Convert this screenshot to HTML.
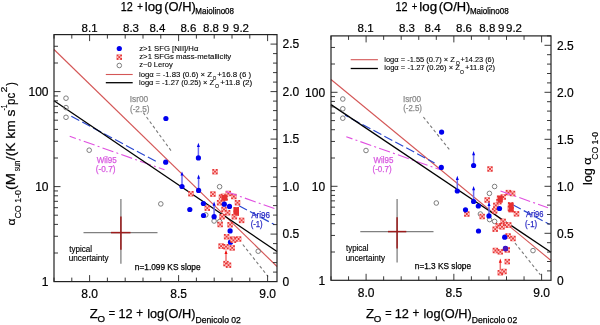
<!DOCTYPE html><html><head><meta charset="utf-8"><style>html,body{margin:0;padding:0;background:#fff;width:600px;height:325px;overflow:hidden}svg{display:block;will-change:transform}</style></head><body>
<svg width="600" height="325" viewBox="0 0 600 325" font-family='"Liberation Sans", sans-serif'>
<defs><g id="sq"><rect x="-2.7" y="-2.7" width="5.4" height="5.4" fill="#e63636"/><path d="M-0.9 -2.7h1.8v1.8h-1.8zM-2.7 -0.9h1.8v1.8h-1.8zM0.9 -0.9h1.8v1.8h-1.8zM-0.9 0.9h1.8v1.8h-1.8z" fill="#ffc4c4"/></g></defs>
<rect width="600" height="325" fill="#fff"/>
<line x1="54" y1="49.5" x2="277" y2="266.5" stroke="#d45656" stroke-width="1.1"/>
<line x1="143.3" y1="112.6" x2="172" y2="152" stroke="#7a7a7a" stroke-width="1.1" stroke-dasharray="3 2.5"/>
<line x1="242.8" y1="244.5" x2="268" y2="276.5" stroke="#7a7a7a" stroke-width="1.1" stroke-dasharray="3 2.5"/>
<line x1="71.3" y1="116.2" x2="158.9" y2="163.0" stroke="#2846d0" stroke-width="1.15" stroke-dasharray="9 3.4"/>
<line x1="239.0" y1="205.7" x2="274.4" y2="224.6" stroke="#2846d0" stroke-width="1.15" stroke-dasharray="9 3.4"/>
<line x1="69.7" y1="136.3" x2="164.5" y2="169.8" stroke="#e050e0" stroke-width="1.1" stroke-dasharray="11.5 3.2 2 3.2" stroke-dashoffset="5"/>
<line x1="54" y1="100.7" x2="277" y2="251.5" stroke="#000" stroke-width="1.3"/>
<circle cx="66" cy="98.2" r="2.3" fill="none" stroke="#707070" stroke-width="0.9"/>
<circle cx="66" cy="107.6" r="2.3" fill="none" stroke="#707070" stroke-width="0.9"/>
<circle cx="66" cy="117.3" r="2.3" fill="none" stroke="#707070" stroke-width="0.9"/>
<circle cx="89.2" cy="150.2" r="2.3" fill="none" stroke="#707070" stroke-width="0.9"/>
<circle cx="160.8" cy="203.9" r="2.3" fill="none" stroke="#707070" stroke-width="0.9"/>
<circle cx="219.6" cy="186.7" r="2.3" fill="none" stroke="#707070" stroke-width="0.9"/>
<circle cx="205.8" cy="214.9" r="2.3" fill="none" stroke="#707070" stroke-width="0.9"/>
<circle cx="214.1" cy="221" r="2.3" fill="none" stroke="#707070" stroke-width="0.9"/>
<circle cx="219.6" cy="221.6" r="2.3" fill="none" stroke="#707070" stroke-width="0.9"/>
<circle cx="258.2" cy="251.2" r="2.3" fill="none" stroke="#707070" stroke-width="0.9"/>
<line x1="226" y1="263" x2="226" y2="253.3" stroke="#f07070" stroke-width="1.5"/>
<path d="M224.5 254.0L226 249.8L227.5 254.0Z" fill="#ee1010"/>
<use href="#sq" x="215" y="171.7"/>
<use href="#sq" x="190.9" y="193.7"/>
<use href="#sq" x="212.9" y="194.1"/>
<use href="#sq" x="221.5" y="197.2"/>
<use href="#sq" x="225.2" y="197.8"/>
<use href="#sq" x="223.4" y="196.4"/>
<use href="#sq" x="222.5" y="199"/>
<use href="#sq" x="228.3" y="193.5"/>
<use href="#sq" x="233.8" y="196.5"/>
<use href="#sq" x="219.6" y="202.7"/>
<use href="#sq" x="237.5" y="202.7"/>
<use href="#sq" x="207.3" y="208.2"/>
<use href="#sq" x="224" y="209.4"/>
<use href="#sq" x="227.6" y="212.7"/>
<use href="#sq" x="236.3" y="209.7"/>
<use href="#sq" x="236.3" y="213.2"/>
<use href="#sq" x="222.1" y="216.7"/>
<use href="#sq" x="234.4" y="216.7"/>
<use href="#sq" x="241.6" y="220.4"/>
<use href="#sq" x="220.2" y="224.5"/>
<use href="#sq" x="230.1" y="224.7"/>
<use href="#sq" x="226.6" y="236.7"/>
<use href="#sq" x="232.6" y="239.4"/>
<use href="#sq" x="233.4" y="240.3"/>
<use href="#sq" x="238.6" y="239"/>
<use href="#sq" x="221.1" y="246.1"/>
<use href="#sq" x="226" y="246.7"/>
<use href="#sq" x="232.2" y="247.9"/>
<use href="#sq" x="226" y="263.6"/>
<use href="#sq" x="228.5" y="265.2"/>
<circle cx="165.9" cy="118.5" r="2.6" fill="#0000ee"/>
<circle cx="165.7" cy="162.2" r="2.6" fill="#0000ee"/>
<line x1="198.4" y1="157.9" x2="198.4" y2="146.3" stroke="#6a6af2" stroke-width="1.5"/>
<path d="M196.9 147.0L198.4 142.8L199.9 147.0Z" fill="#0000ee"/>
<circle cx="198.4" cy="157.9" r="2.6" fill="#0000ee"/>
<line x1="182" y1="186.5" x2="182" y2="174.9" stroke="#6a6af2" stroke-width="1.5"/>
<path d="M180.5 175.6L182 171.4L183.5 175.6Z" fill="#0000ee"/>
<circle cx="182" cy="186.5" r="2.6" fill="#0000ee"/>
<line x1="198.6" y1="190.4" x2="198.6" y2="178.0" stroke="#6a6af2" stroke-width="1.5"/>
<path d="M197.1 178.7L198.6 174.5L200.1 178.7Z" fill="#0000ee"/>
<circle cx="198.6" cy="190.4" r="2.6" fill="#0000ee"/>
<circle cx="203.4" cy="203.5" r="2.6" fill="#0000ee"/>
<circle cx="189.8" cy="209.5" r="2.6" fill="#0000ee"/>
<circle cx="224.3" cy="204.2" r="2.6" fill="#0000ee"/>
<circle cx="229.5" cy="206.4" r="2.6" fill="#0000ee"/>
<circle cx="203.5" cy="215.5" r="2.6" fill="#0000ee"/>
<line x1="214.1" y1="216.7" x2="214.1" y2="205.0" stroke="#6a6af2" stroke-width="1.5"/>
<path d="M212.6 205.7L214.1 201.5L215.6 205.7Z" fill="#0000ee"/>
<circle cx="214.1" cy="216.7" r="2.6" fill="#0000ee"/>
<circle cx="230.1" cy="230.9" r="2.6" fill="#0000ee"/>
<circle cx="230.5" cy="242.2" r="2.6" fill="#0000ee"/>
<use href="#sq" x="232.6" y="239.4"/>
<use href="#sq" x="233.4" y="240.3"/>
<rect x="221.6" y="195" width="5.6" height="5.6" fill="#e63030"/>
<rect x="233.6" y="207.2" width="5.4" height="7.5" fill="#e63030"/>
<line x1="226.1" y1="191.5" x2="274.4" y2="208.6" stroke="#e050e0" stroke-width="1.1" stroke-dasharray="11.5 3.2 2 3.2"/>
<line x1="83.5" y1="232.6" x2="157.5" y2="232.6" stroke="#808080" stroke-width="1.3"/>
<line x1="120.9" y1="198.9" x2="120.9" y2="263.8" stroke="#808080" stroke-width="1.3"/>
<line x1="111" y1="232.6" x2="130.5" y2="232.6" stroke="#9c1c1c" stroke-width="1.5"/>
<line x1="120.9" y1="216.5" x2="120.9" y2="249.8" stroke="#9c1c1c" stroke-width="1.5"/>
<text x="69.23" y="251.9" font-size="8.7" fill="#000" stroke="#000" stroke-width="0.15" textLength="22.86" lengthAdjust="spacingAndGlyphs">typical</text>
<text x="68.82" y="261" font-size="8.7" fill="#000" stroke="#000" stroke-width="0.15" textLength="39.84" lengthAdjust="spacingAndGlyphs">uncertainty</text>
<text x="134.81" y="270.1" font-size="8.6" fill="#000" stroke="#000" stroke-width="0.25" textLength="65.80" lengthAdjust="spacingAndGlyphs">n=1.099 KS slope</text>
<text x="129.68" y="102.3" font-size="8.7" fill="#8a8a8a" stroke="#8a8a8a" stroke-width="0.25" textLength="18.49" lengthAdjust="spacingAndGlyphs">Isr00</text>
<text x="129.94" y="111.6" font-size="8.7" fill="#8a8a8a" stroke="#8a8a8a" stroke-width="0.25" textLength="19.51" lengthAdjust="spacingAndGlyphs">(-2.5)</text>
<text x="96.71" y="162.6" font-size="8.7" fill="#d858e0" stroke="#d858e0" stroke-width="0.25" textLength="20.07" lengthAdjust="spacingAndGlyphs">Wil95</text>
<text x="95.84" y="172.2" font-size="8.7" fill="#d858e0" stroke="#d858e0" stroke-width="0.25" textLength="19.62" lengthAdjust="spacingAndGlyphs">(-0.7)</text>
<text x="251.13" y="217.9" font-size="8.7" fill="#2828c4" stroke="#2828c4" stroke-width="0.25" textLength="18.88" lengthAdjust="spacingAndGlyphs">Ari96</text>
<text x="250.67" y="227" font-size="8.7" fill="#2828c4" stroke="#2828c4" stroke-width="0.25" textLength="12.05" lengthAdjust="spacingAndGlyphs">(-1)</text>
<circle cx="119.3" cy="48.5" r="2.6" fill="#0000ee"/>
<use href="#sq" x="119.3" y="57.2"/>
<circle cx="119.3" cy="65.5" r="2.3" fill="none" stroke="#707070" stroke-width="0.9"/>
<line x1="105.8" y1="74.5" x2="132.7" y2="74.5" stroke="#d45656" stroke-width="1.1"/>
<line x1="105.8" y1="82.7" x2="132.7" y2="82.7" stroke="#000" stroke-width="1.3"/>
<text x="139.24" y="51.1" font-size="8" fill="#000" stroke="#000" stroke-width="0.1" textLength="59.13" lengthAdjust="spacingAndGlyphs">z&gt;1 SFG [NII]/Hα</text>
<text x="139.24" y="59.3" font-size="8" fill="#000" stroke="#000" stroke-width="0.1" textLength="91.94" lengthAdjust="spacingAndGlyphs">z&gt;1 SFGs mass-metallicity</text>
<text x="139.25" y="67.3" font-size="8" fill="#000" stroke="#000" stroke-width="0.1" textLength="33.42" lengthAdjust="spacingAndGlyphs">z~0 Leroy</text>
<text x="139.03" y="76.6" font-size="8" fill="#000" stroke="#000" stroke-width="0.1" textLength="72.86" lengthAdjust="spacingAndGlyphs">logα = -1.83 (0.6) × Z</text>
<text x="212.83" y="79.9" font-size="6.2" fill="#000" stroke="#000" stroke-width="0.1" textLength="3.53" lengthAdjust="spacingAndGlyphs">O</text>
<text x="217.18" y="76.6" font-size="8" fill="#000" stroke="#000" stroke-width="0.1" textLength="33.95" lengthAdjust="spacingAndGlyphs">+16.8 (6 )</text>
<text x="139.04" y="85" font-size="8" fill="#000" stroke="#000" stroke-width="0.1" textLength="75.03" lengthAdjust="spacingAndGlyphs">logα = -1.27 (0.25) × Z</text>
<text x="215.10" y="88.3" font-size="6.2" fill="#000" stroke="#000" stroke-width="0.1" textLength="4.10" lengthAdjust="spacingAndGlyphs">O</text>
<text x="220.16" y="85" font-size="8" fill="#000" stroke="#000" stroke-width="0.1" textLength="32.18" lengthAdjust="spacingAndGlyphs">+11.8 (2)</text>
<path d="M54.00 281.60V277.60M54.00 34.60V38.60M71.80 281.60V277.60M71.80 34.60V38.60M89.60 281.60V275.10M89.60 34.60V41.10M107.40 281.60V277.60M107.40 34.60V38.60M125.20 281.60V277.60M125.20 34.60V38.60M143.00 281.60V277.60M143.00 34.60V38.60M160.80 281.60V277.60M160.80 34.60V38.60M178.60 281.60V275.10M178.60 34.60V41.10M196.40 281.60V277.60M196.40 34.60V38.60M214.20 281.60V277.60M214.20 34.60V38.60M232.00 281.60V277.60M232.00 34.60V38.60M249.80 281.60V277.60M249.80 34.60V38.60M267.60 281.60V275.10M267.60 34.60V41.10M54.00 253.00H58.00M54.00 236.27H58.00M54.00 224.40H58.00M54.00 215.20H58.00M54.00 207.68H58.00M54.00 201.32H58.00M54.00 195.81H58.00M54.00 190.95H58.00M54.00 186.60H60.50M54.00 158.00H58.00M54.00 141.27H58.00M54.00 129.40H58.00M54.00 120.20H58.00M54.00 112.68H58.00M54.00 106.32H58.00M54.00 100.81H58.00M54.00 95.95H58.00M54.00 91.60H60.50M54.00 63.00H58.00M54.00 46.27H58.00M277.00 272.10H273.00M277.00 262.60H273.00M277.00 253.10H273.00M277.00 243.60H273.00M277.00 234.10H270.50M277.00 224.60H273.00M277.00 215.10H273.00M277.00 205.60H273.00M277.00 196.10H273.00M277.00 186.60H270.50M277.00 177.10H273.00M277.00 167.60H273.00M277.00 158.10H273.00M277.00 148.60H273.00M277.00 139.10H270.50M277.00 129.60H273.00M277.00 120.10H273.00M277.00 110.60H273.00M277.00 101.10H273.00M277.00 91.60H270.50M277.00 82.10H273.00M277.00 72.60H273.00M277.00 63.10H273.00M277.00 53.60H273.00M277.00 44.10H270.50M277.00 34.60H273.00" stroke="#222" stroke-width="0.9" fill="none"/>
<rect x="54" y="34.60" width="223" height="247.00" fill="none" stroke="#222" stroke-width="1.2"/>
<text x="89.60" y="298.10" text-anchor="middle" font-size="12" stroke="#000" stroke-width="0.2">8.0</text>
<text x="178.60" y="298.10" text-anchor="middle" font-size="12" stroke="#000" stroke-width="0.2">8.5</text>
<text x="267.60" y="298.10" text-anchor="middle" font-size="12" stroke="#000" stroke-width="0.2">9.0</text>
<text x="48.5" y="285.90" text-anchor="end" font-size="12" stroke="#000" stroke-width="0.2">1</text>
<text x="48.5" y="190.90" text-anchor="end" font-size="12" stroke="#000" stroke-width="0.2">10</text>
<text x="48.5" y="95.90" text-anchor="end" font-size="12" stroke="#000" stroke-width="0.2">100</text>
<text x="282.5" y="285.90" font-size="12" stroke="#000" stroke-width="0.2">0</text>
<text x="282.5" y="238.40" font-size="12" stroke="#000" stroke-width="0.2">0.5</text>
<text x="282.5" y="190.90" font-size="12" stroke="#000" stroke-width="0.2">1.0</text>
<text x="282.5" y="143.40" font-size="12" stroke="#000" stroke-width="0.2">1.5</text>
<text x="282.5" y="95.90" font-size="12" stroke="#000" stroke-width="0.2">2.0</text>
<text x="282.5" y="48.40" font-size="12" stroke="#000" stroke-width="0.2">2.5</text>
<text x="89.6" y="32" text-anchor="middle" font-size="11.5" stroke="#000" stroke-width="0.2">8.1</text>
<text x="131" y="32" text-anchor="middle" font-size="11.5" stroke="#000" stroke-width="0.2">8.3</text>
<text x="157.4" y="32" text-anchor="middle" font-size="11.5" stroke="#000" stroke-width="0.2">8.4</text>
<text x="188.4" y="32" text-anchor="middle" font-size="11.5" stroke="#000" stroke-width="0.2">8.6</text>
<text x="211" y="32" text-anchor="middle" font-size="11.5" stroke="#000" stroke-width="0.2">8.8</text>
<text x="225.6" y="32" text-anchor="middle" font-size="11.5" stroke="#000" stroke-width="0.2">9</text>
<text x="241" y="32" text-anchor="middle" font-size="11.5" stroke="#000" stroke-width="0.2">9.2</text>
<line x1="331" y1="79.5" x2="551" y2="260.5" stroke="#d45656" stroke-width="1.1"/>
<line x1="423.4" y1="117" x2="449.5" y2="149.7" stroke="#7a7a7a" stroke-width="1.1" stroke-dasharray="3 2.5"/>
<line x1="515" y1="243" x2="540.5" y2="275" stroke="#7a7a7a" stroke-width="1.1" stroke-dasharray="3 2.5"/>
<line x1="345.0" y1="115.2" x2="434.6" y2="163.0" stroke="#2846d0" stroke-width="1.15" stroke-dasharray="9 3.4" stroke-dashoffset="5"/>
<line x1="512.8" y1="204.8" x2="549.6" y2="224.4" stroke="#2846d0" stroke-width="1.15" stroke-dasharray="9 3.4"/>
<line x1="346.3" y1="136.7" x2="439.0" y2="169.3" stroke="#e050e0" stroke-width="1.1" stroke-dasharray="11.5 3.2 2 3.2" stroke-dashoffset="5"/>
<line x1="331" y1="104.6" x2="551" y2="252.2" stroke="#000" stroke-width="1.3"/>
<circle cx="342.8" cy="99" r="2.3" fill="none" stroke="#707070" stroke-width="0.9"/>
<circle cx="342.8" cy="108.8" r="2.3" fill="none" stroke="#707070" stroke-width="0.9"/>
<circle cx="342.8" cy="118.2" r="2.3" fill="none" stroke="#707070" stroke-width="0.9"/>
<circle cx="366" cy="150.5" r="2.3" fill="none" stroke="#707070" stroke-width="0.9"/>
<circle cx="436.3" cy="203" r="2.3" fill="none" stroke="#707070" stroke-width="0.9"/>
<circle cx="494.6" cy="186.5" r="2.3" fill="none" stroke="#707070" stroke-width="0.9"/>
<circle cx="489.4" cy="193.4" r="2.3" fill="none" stroke="#707070" stroke-width="0.9"/>
<circle cx="480.4" cy="214" r="2.3" fill="none" stroke="#707070" stroke-width="0.9"/>
<circle cx="489.6" cy="219.6" r="2.3" fill="none" stroke="#707070" stroke-width="0.9"/>
<circle cx="494.6" cy="221.4" r="2.3" fill="none" stroke="#707070" stroke-width="0.9"/>
<circle cx="533" cy="250.6" r="2.3" fill="none" stroke="#707070" stroke-width="0.9"/>
<line x1="500.3" y1="271" x2="500.3" y2="262.0" stroke="#f07070" stroke-width="1.5"/>
<path d="M498.8 262.7L500.3 258.5L501.8 262.7Z" fill="#ee1010"/>
<use href="#sq" x="490" y="169"/>
<use href="#sq" x="487.2" y="200"/>
<use href="#sq" x="508.4" y="192.6"/>
<use href="#sq" x="512.5" y="193.5"/>
<use href="#sq" x="499.6" y="198.2"/>
<use href="#sq" x="503.3" y="197"/>
<use href="#sq" x="498.9" y="201.7"/>
<use href="#sq" x="510.6" y="204.8"/>
<use href="#sq" x="511.2" y="209.7"/>
<use href="#sq" x="516.5" y="213.8"/>
<use href="#sq" x="510.4" y="208.5"/>
<use href="#sq" x="466.8" y="214"/>
<use href="#sq" x="482.2" y="216.5"/>
<use href="#sq" x="494.6" y="210.9"/>
<use href="#sq" x="495.8" y="205.4"/>
<use href="#sq" x="503.2" y="221.4"/>
<use href="#sq" x="498.3" y="225.7"/>
<use href="#sq" x="505.6" y="225.1"/>
<use href="#sq" x="495.2" y="229.2"/>
<use href="#sq" x="502" y="226.8"/>
<use href="#sq" x="508.7" y="224.9"/>
<use href="#sq" x="508.1" y="236"/>
<use href="#sq" x="513" y="238.5"/>
<use href="#sq" x="495.4" y="250.5"/>
<use href="#sq" x="500.3" y="251.8"/>
<use href="#sq" x="507.3" y="249.9"/>
<use href="#sq" x="507.3" y="261.6"/>
<use href="#sq" x="500.3" y="272.7"/>
<use href="#sq" x="504" y="271.5"/>
<circle cx="441.6" cy="132.1" r="2.6" fill="#0000ee"/>
<circle cx="441.3" cy="167.4" r="2.6" fill="#0000ee"/>
<line x1="473.6" y1="165.5" x2="473.6" y2="154.5" stroke="#6a6af2" stroke-width="1.5"/>
<path d="M472.1 155.2L473.6 151L475.1 155.2Z" fill="#0000ee"/>
<circle cx="473.6" cy="165.5" r="2.6" fill="#0000ee"/>
<line x1="457.3" y1="191" x2="457.3" y2="179.3" stroke="#6a6af2" stroke-width="1.5"/>
<path d="M455.8 180.0L457.3 175.8L458.8 180.0Z" fill="#0000ee"/>
<circle cx="457.3" cy="191" r="2.6" fill="#0000ee"/>
<line x1="473.6" y1="201.5" x2="473.6" y2="189.5" stroke="#6a6af2" stroke-width="1.5"/>
<path d="M472.1 190.2L473.6 186L475.1 190.2Z" fill="#0000ee"/>
<circle cx="473.6" cy="201.5" r="2.6" fill="#0000ee"/>
<circle cx="478.3" cy="206" r="2.6" fill="#0000ee"/>
<circle cx="465.5" cy="209.8" r="2.6" fill="#0000ee"/>
<line x1="489" y1="215.9" x2="489" y2="205.2" stroke="#6a6af2" stroke-width="1.5"/>
<path d="M487.5 205.89999999999998L489 201.7L490.5 205.89999999999998Z" fill="#0000ee"/>
<circle cx="489" cy="215.9" r="2.6" fill="#0000ee"/>
<circle cx="499.5" cy="208.5" r="2.6" fill="#0000ee"/>
<circle cx="478.5" cy="231" r="2.6" fill="#0000ee"/>
<circle cx="504.7" cy="237.2" r="2.6" fill="#0000ee"/>
<circle cx="505.4" cy="248.4" r="2.6" fill="#0000ee"/>
<circle cx="505.5" cy="248.7" r="2.6" fill="#4a14b8"/>
<rect x="497.6" y="195.8" width="5.2" height="6.8" fill="#e63030"/>
<rect x="508.6" y="202.8" width="5" height="9" fill="#e63030"/>
<line x1="500.5" y1="191.0" x2="548.0" y2="207.7" stroke="#e050e0" stroke-width="1.1" stroke-dasharray="11.5 3.2 2 3.2"/>
<line x1="360.3" y1="231.6" x2="433.5" y2="231.6" stroke="#808080" stroke-width="1.3"/>
<line x1="397.1" y1="198.9" x2="397.1" y2="262.5" stroke="#808080" stroke-width="1.3"/>
<line x1="388" y1="231.6" x2="406.3" y2="231.6" stroke="#9c1c1c" stroke-width="1.5"/>
<line x1="397.1" y1="217.2" x2="397.1" y2="248.6" stroke="#9c1c1c" stroke-width="1.5"/>
<text x="346.03" y="251.4" font-size="8.7" fill="#000" stroke="#000" stroke-width="0.15" textLength="22.45" lengthAdjust="spacingAndGlyphs">typical</text>
<text x="345.63" y="260.6" font-size="8.7" fill="#000" stroke="#000" stroke-width="0.15" textLength="39.44" lengthAdjust="spacingAndGlyphs">uncertainty</text>
<text x="414.81" y="268.6" font-size="8.6" fill="#000" stroke="#000" stroke-width="0.25" textLength="56.19" lengthAdjust="spacingAndGlyphs">n=1.3 KS slope</text>
<text x="402.89" y="101.5" font-size="8.7" fill="#8a8a8a" stroke="#8a8a8a" stroke-width="0.25" textLength="18.17" lengthAdjust="spacingAndGlyphs">Isr00</text>
<text x="403.16" y="111" font-size="8.7" fill="#8a8a8a" stroke="#8a8a8a" stroke-width="0.25" textLength="18.78" lengthAdjust="spacingAndGlyphs">(-2.5)</text>
<text x="373.41" y="162.6" font-size="8.7" fill="#d858e0" stroke="#d858e0" stroke-width="0.25" textLength="19.96" lengthAdjust="spacingAndGlyphs">Wil95</text>
<text x="372.55" y="172.2" font-size="8.7" fill="#d858e0" stroke="#d858e0" stroke-width="0.25" textLength="19.09" lengthAdjust="spacingAndGlyphs">(-0.7)</text>
<text x="525.93" y="217.3" font-size="8.7" fill="#2828c4" stroke="#2828c4" stroke-width="0.25" textLength="17.55" lengthAdjust="spacingAndGlyphs">Ari96</text>
<text x="524.97" y="226.5" font-size="8.7" fill="#2828c4" stroke="#2828c4" stroke-width="0.25" textLength="12.05" lengthAdjust="spacingAndGlyphs">(-1)</text>
<line x1="350.7" y1="59.7" x2="377.9" y2="59.7" stroke="#d45656" stroke-width="1.1"/>
<line x1="350.7" y1="68.5" x2="377.9" y2="68.5" stroke="#000" stroke-width="1.3"/>
<text x="384.24" y="62" font-size="8" fill="#000" stroke="#000" stroke-width="0.1" textLength="70.64" lengthAdjust="spacingAndGlyphs">logα = -1.55 (0.7) × Z</text>
<text x="455.70" y="65.3" font-size="6.2" fill="#000" stroke="#000" stroke-width="0.1" textLength="4.10" lengthAdjust="spacingAndGlyphs">O</text>
<text x="460.50" y="62" font-size="8" fill="#000" stroke="#000" stroke-width="0.1" textLength="33.60" lengthAdjust="spacingAndGlyphs">+14.23 (6)</text>
<text x="384.24" y="70.4" font-size="8" fill="#000" stroke="#000" stroke-width="0.1" textLength="75.64" lengthAdjust="spacingAndGlyphs">logα = -1.27 (0.26) × Z</text>
<text x="460.11" y="73.7" font-size="6.2" fill="#000" stroke="#000" stroke-width="0.1" textLength="3.99" lengthAdjust="spacingAndGlyphs">O</text>
<text x="464.99" y="70.4" font-size="8" fill="#000" stroke="#000" stroke-width="0.1" textLength="30.13" lengthAdjust="spacingAndGlyphs">+11.8 (2)</text>
<path d="M331.00 280.30V276.30M331.00 35.90V39.90M348.55 280.30V276.30M348.55 35.90V39.90M366.10 280.30V273.80M366.10 35.90V42.40M383.65 280.30V276.30M383.65 35.90V39.90M401.20 280.30V276.30M401.20 35.90V39.90M418.75 280.30V276.30M418.75 35.90V39.90M436.30 280.30V276.30M436.30 35.90V39.90M453.85 280.30V273.80M453.85 35.90V42.40M471.40 280.30V276.30M471.40 35.90V39.90M488.95 280.30V276.30M488.95 35.90V39.90M506.50 280.30V276.30M506.50 35.90V39.90M524.05 280.30V276.30M524.05 35.90V39.90M541.60 280.30V273.80M541.60 35.90V42.40M331.00 252.00H335.00M331.00 235.45H335.00M331.00 223.71H335.00M331.00 214.60H335.00M331.00 207.15H335.00M331.00 200.86H335.00M331.00 195.41H335.00M331.00 190.60H335.00M331.00 186.30H337.50M331.00 158.00H335.00M331.00 141.45H335.00M331.00 129.71H335.00M331.00 120.60H335.00M331.00 113.15H335.00M331.00 106.86H335.00M331.00 101.41H335.00M331.00 96.60H335.00M331.00 92.30H337.50M331.00 64.00H335.00M331.00 47.45H335.00M551.00 270.90H547.00M551.00 261.50H547.00M551.00 252.10H547.00M551.00 242.70H547.00M551.00 233.30H544.50M551.00 223.90H547.00M551.00 214.50H547.00M551.00 205.10H547.00M551.00 195.70H547.00M551.00 186.30H544.50M551.00 176.90H547.00M551.00 167.50H547.00M551.00 158.10H547.00M551.00 148.70H547.00M551.00 139.30H544.50M551.00 129.90H547.00M551.00 120.50H547.00M551.00 111.10H547.00M551.00 101.70H547.00M551.00 92.30H544.50M551.00 82.90H547.00M551.00 73.50H547.00M551.00 64.10H547.00M551.00 54.70H547.00M551.00 45.30H544.50M551.00 35.90H547.00" stroke="#222" stroke-width="0.9" fill="none"/>
<rect x="331" y="35.90" width="220" height="244.40" fill="none" stroke="#222" stroke-width="1.2"/>
<text x="366.10" y="296.80" text-anchor="middle" font-size="12" stroke="#000" stroke-width="0.2">8.0</text>
<text x="453.85" y="296.80" text-anchor="middle" font-size="12" stroke="#000" stroke-width="0.2">8.5</text>
<text x="541.60" y="296.80" text-anchor="middle" font-size="12" stroke="#000" stroke-width="0.2">9.0</text>
<text x="325.1" y="284.60" text-anchor="end" font-size="12" stroke="#000" stroke-width="0.2">1</text>
<text x="325.1" y="190.60" text-anchor="end" font-size="12" stroke="#000" stroke-width="0.2">10</text>
<text x="325.1" y="96.60" text-anchor="end" font-size="12" stroke="#000" stroke-width="0.2">100</text>
<text x="557" y="284.60" font-size="12" stroke="#000" stroke-width="0.2">0</text>
<text x="557" y="237.60" font-size="12" stroke="#000" stroke-width="0.2">0.5</text>
<text x="557" y="190.60" font-size="12" stroke="#000" stroke-width="0.2">1.0</text>
<text x="557" y="143.60" font-size="12" stroke="#000" stroke-width="0.2">1.5</text>
<text x="557" y="96.60" font-size="12" stroke="#000" stroke-width="0.2">2.0</text>
<text x="557" y="49.60" font-size="12" stroke="#000" stroke-width="0.2">2.5</text>
<text x="365.6" y="32" text-anchor="middle" font-size="11.5" stroke="#000" stroke-width="0.2">8.1</text>
<text x="407" y="32" text-anchor="middle" font-size="11.5" stroke="#000" stroke-width="0.2">8.3</text>
<text x="432.6" y="32" text-anchor="middle" font-size="11.5" stroke="#000" stroke-width="0.2">8.4</text>
<text x="464" y="32" text-anchor="middle" font-size="11.5" stroke="#000" stroke-width="0.2">8.6</text>
<text x="487.3" y="32" text-anchor="middle" font-size="11.5" stroke="#000" stroke-width="0.2">8.8</text>
<text x="501.3" y="32" text-anchor="middle" font-size="11.5" stroke="#000" stroke-width="0.2">9</text>
<text x="514" y="32" text-anchor="middle" font-size="11.5" stroke="#000" stroke-width="0.2">9.2</text>
<text x="120.84" y="10.8" font-size="12" fill="#000" stroke="#000" stroke-width="0.25" textLength="12.05" lengthAdjust="spacingAndGlyphs">12</text>
<text x="137.19" y="10.3" font-size="10.5" fill="#000" stroke="#000" stroke-width="0.25" textLength="5.63" lengthAdjust="spacingAndGlyphs">+</text>
<text x="144.75" y="10.8" font-size="12" fill="#000" stroke="#000" stroke-width="0.25" textLength="17.76" lengthAdjust="spacingAndGlyphs">log</text>
<text x="164.24" y="10.8" font-size="12" fill="#000" stroke="#000" stroke-width="0.25" textLength="31.50" lengthAdjust="spacingAndGlyphs">(O/H)</text>
<text x="195.29" y="14.1" font-size="8.4" fill="#000" stroke="#000" stroke-width="0.25" textLength="38.71" lengthAdjust="spacingAndGlyphs">Maiolino08</text>
<text x="395.44" y="10.8" font-size="12" fill="#000" stroke="#000" stroke-width="0.25" textLength="12.05" lengthAdjust="spacingAndGlyphs">12</text>
<text x="411.79" y="10.3" font-size="10.5" fill="#000" stroke="#000" stroke-width="0.25" textLength="5.63" lengthAdjust="spacingAndGlyphs">+</text>
<text x="419.35" y="10.8" font-size="12" fill="#000" stroke="#000" stroke-width="0.25" textLength="17.76" lengthAdjust="spacingAndGlyphs">log</text>
<text x="438.84" y="10.8" font-size="12" fill="#000" stroke="#000" stroke-width="0.25" textLength="31.50" lengthAdjust="spacingAndGlyphs">(O/H)</text>
<text x="469.89" y="14.1" font-size="8.4" fill="#000" stroke="#000" stroke-width="0.25" textLength="38.71" lengthAdjust="spacingAndGlyphs">Maiolino08</text>
<text x="89.65" y="317.7" font-size="13" fill="#000" stroke="#000" stroke-width="0.25" textLength="8.11" lengthAdjust="spacingAndGlyphs">Z</text>
<text x="97.59" y="322.3" font-size="9.2" fill="#000" stroke="#000" stroke-width="0.25" textLength="7.52" lengthAdjust="spacingAndGlyphs">O</text>
<text x="108.83" y="316.9" font-size="13" fill="#000" stroke="#000" stroke-width="0.25" textLength="6.35" lengthAdjust="spacingAndGlyphs">=</text>
<text x="118.39" y="317.7" font-size="13" fill="#000" stroke="#000" stroke-width="0.25" textLength="14.19" lengthAdjust="spacingAndGlyphs">12</text>
<text x="136.19" y="317.2" font-size="12" fill="#000" stroke="#000" stroke-width="0.25" textLength="6.83" lengthAdjust="spacingAndGlyphs">+</text>
<text x="147.19" y="317.5" font-size="13" fill="#000" stroke="#000" stroke-width="0.25" textLength="16.98" lengthAdjust="spacingAndGlyphs">log</text>
<text x="164.25" y="317.7" font-size="13" fill="#000" stroke="#000" stroke-width="0.25" textLength="31.18" lengthAdjust="spacingAndGlyphs">(O/H)</text>
<text x="195.44" y="322.9" font-size="9" fill="#000" stroke="#000" stroke-width="0.25" textLength="45.43" lengthAdjust="spacingAndGlyphs">Denicolo 02</text>
<text x="365.95" y="317.7" font-size="13" fill="#000" stroke="#000" stroke-width="0.25" textLength="8.11" lengthAdjust="spacingAndGlyphs">Z</text>
<text x="373.89" y="322.3" font-size="9.2" fill="#000" stroke="#000" stroke-width="0.25" textLength="7.52" lengthAdjust="spacingAndGlyphs">O</text>
<text x="385.13" y="316.9" font-size="13" fill="#000" stroke="#000" stroke-width="0.25" textLength="6.35" lengthAdjust="spacingAndGlyphs">=</text>
<text x="394.69" y="317.7" font-size="13" fill="#000" stroke="#000" stroke-width="0.25" textLength="14.19" lengthAdjust="spacingAndGlyphs">12</text>
<text x="412.49" y="317.2" font-size="12" fill="#000" stroke="#000" stroke-width="0.25" textLength="6.83" lengthAdjust="spacingAndGlyphs">+</text>
<text x="423.49" y="317.5" font-size="13" fill="#000" stroke="#000" stroke-width="0.25" textLength="16.98" lengthAdjust="spacingAndGlyphs">log</text>
<text x="440.55" y="317.7" font-size="13" fill="#000" stroke="#000" stroke-width="0.25" textLength="31.18" lengthAdjust="spacingAndGlyphs">(O/H)</text>
<text x="471.74" y="322.9" font-size="9" fill="#000" stroke="#000" stroke-width="0.25" textLength="45.43" lengthAdjust="spacingAndGlyphs">Denicolo 02</text>
<text transform="translate(15.00,225.46) rotate(-90)" font-size="11" stroke="#000" stroke-width="0.2" textLength="6.95" lengthAdjust="spacingAndGlyphs">α</text>
<text transform="translate(21.00,218.59) rotate(-90)" font-size="9.5" stroke="#000" stroke-width="0.15" textLength="28.58" lengthAdjust="spacingAndGlyphs">CO 1-0</text>
<text transform="translate(15.00,190.05) rotate(-90)" font-size="12.5" stroke="#000" stroke-width="0.2" textLength="16.88" lengthAdjust="spacingAndGlyphs">(M</text>
<text transform="translate(19.70,171.33) rotate(-90)" font-size="9" stroke="#000" stroke-width="0.15" textLength="10.40" lengthAdjust="spacingAndGlyphs">sun</text>
<text transform="translate(15.00,160.15) rotate(-90)" font-size="12.5" stroke="#000" stroke-width="0.2" textLength="50.57" lengthAdjust="spacingAndGlyphs">/(K km s</text>
<text transform="translate(6.50,110.56) rotate(-90)" font-size="9" stroke="#000" stroke-width="0.15" textLength="6.04" lengthAdjust="spacingAndGlyphs">-1</text>
<text transform="translate(15.00,104.89) rotate(-90)" font-size="12.5" stroke="#000" stroke-width="0.2" textLength="12.04" lengthAdjust="spacingAndGlyphs">pc</text>
<text transform="translate(6.80,92.39) rotate(-90)" font-size="9" stroke="#000" stroke-width="0.15" textLength="5.96" lengthAdjust="spacingAndGlyphs">2</text>
<text transform="translate(15.00,85.71) rotate(-90)" font-size="12.5" stroke="#000" stroke-width="0.2" textLength="3.73" lengthAdjust="spacingAndGlyphs">)</text>
<text transform="translate(592.00,185.11) rotate(-90)" font-size="13" stroke="#000" stroke-width="0.2" textLength="16.98" lengthAdjust="spacingAndGlyphs">log</text>
<text transform="translate(591.30,164.68) rotate(-90)" font-size="11" stroke="#000" stroke-width="0.2" textLength="7.18" lengthAdjust="spacingAndGlyphs">α</text>
<text transform="translate(597.50,159.68) rotate(-90)" font-size="9.5" stroke="#000" stroke-width="0.15" textLength="27.66" lengthAdjust="spacingAndGlyphs">CO 1-0</text>
</svg></body></html>
